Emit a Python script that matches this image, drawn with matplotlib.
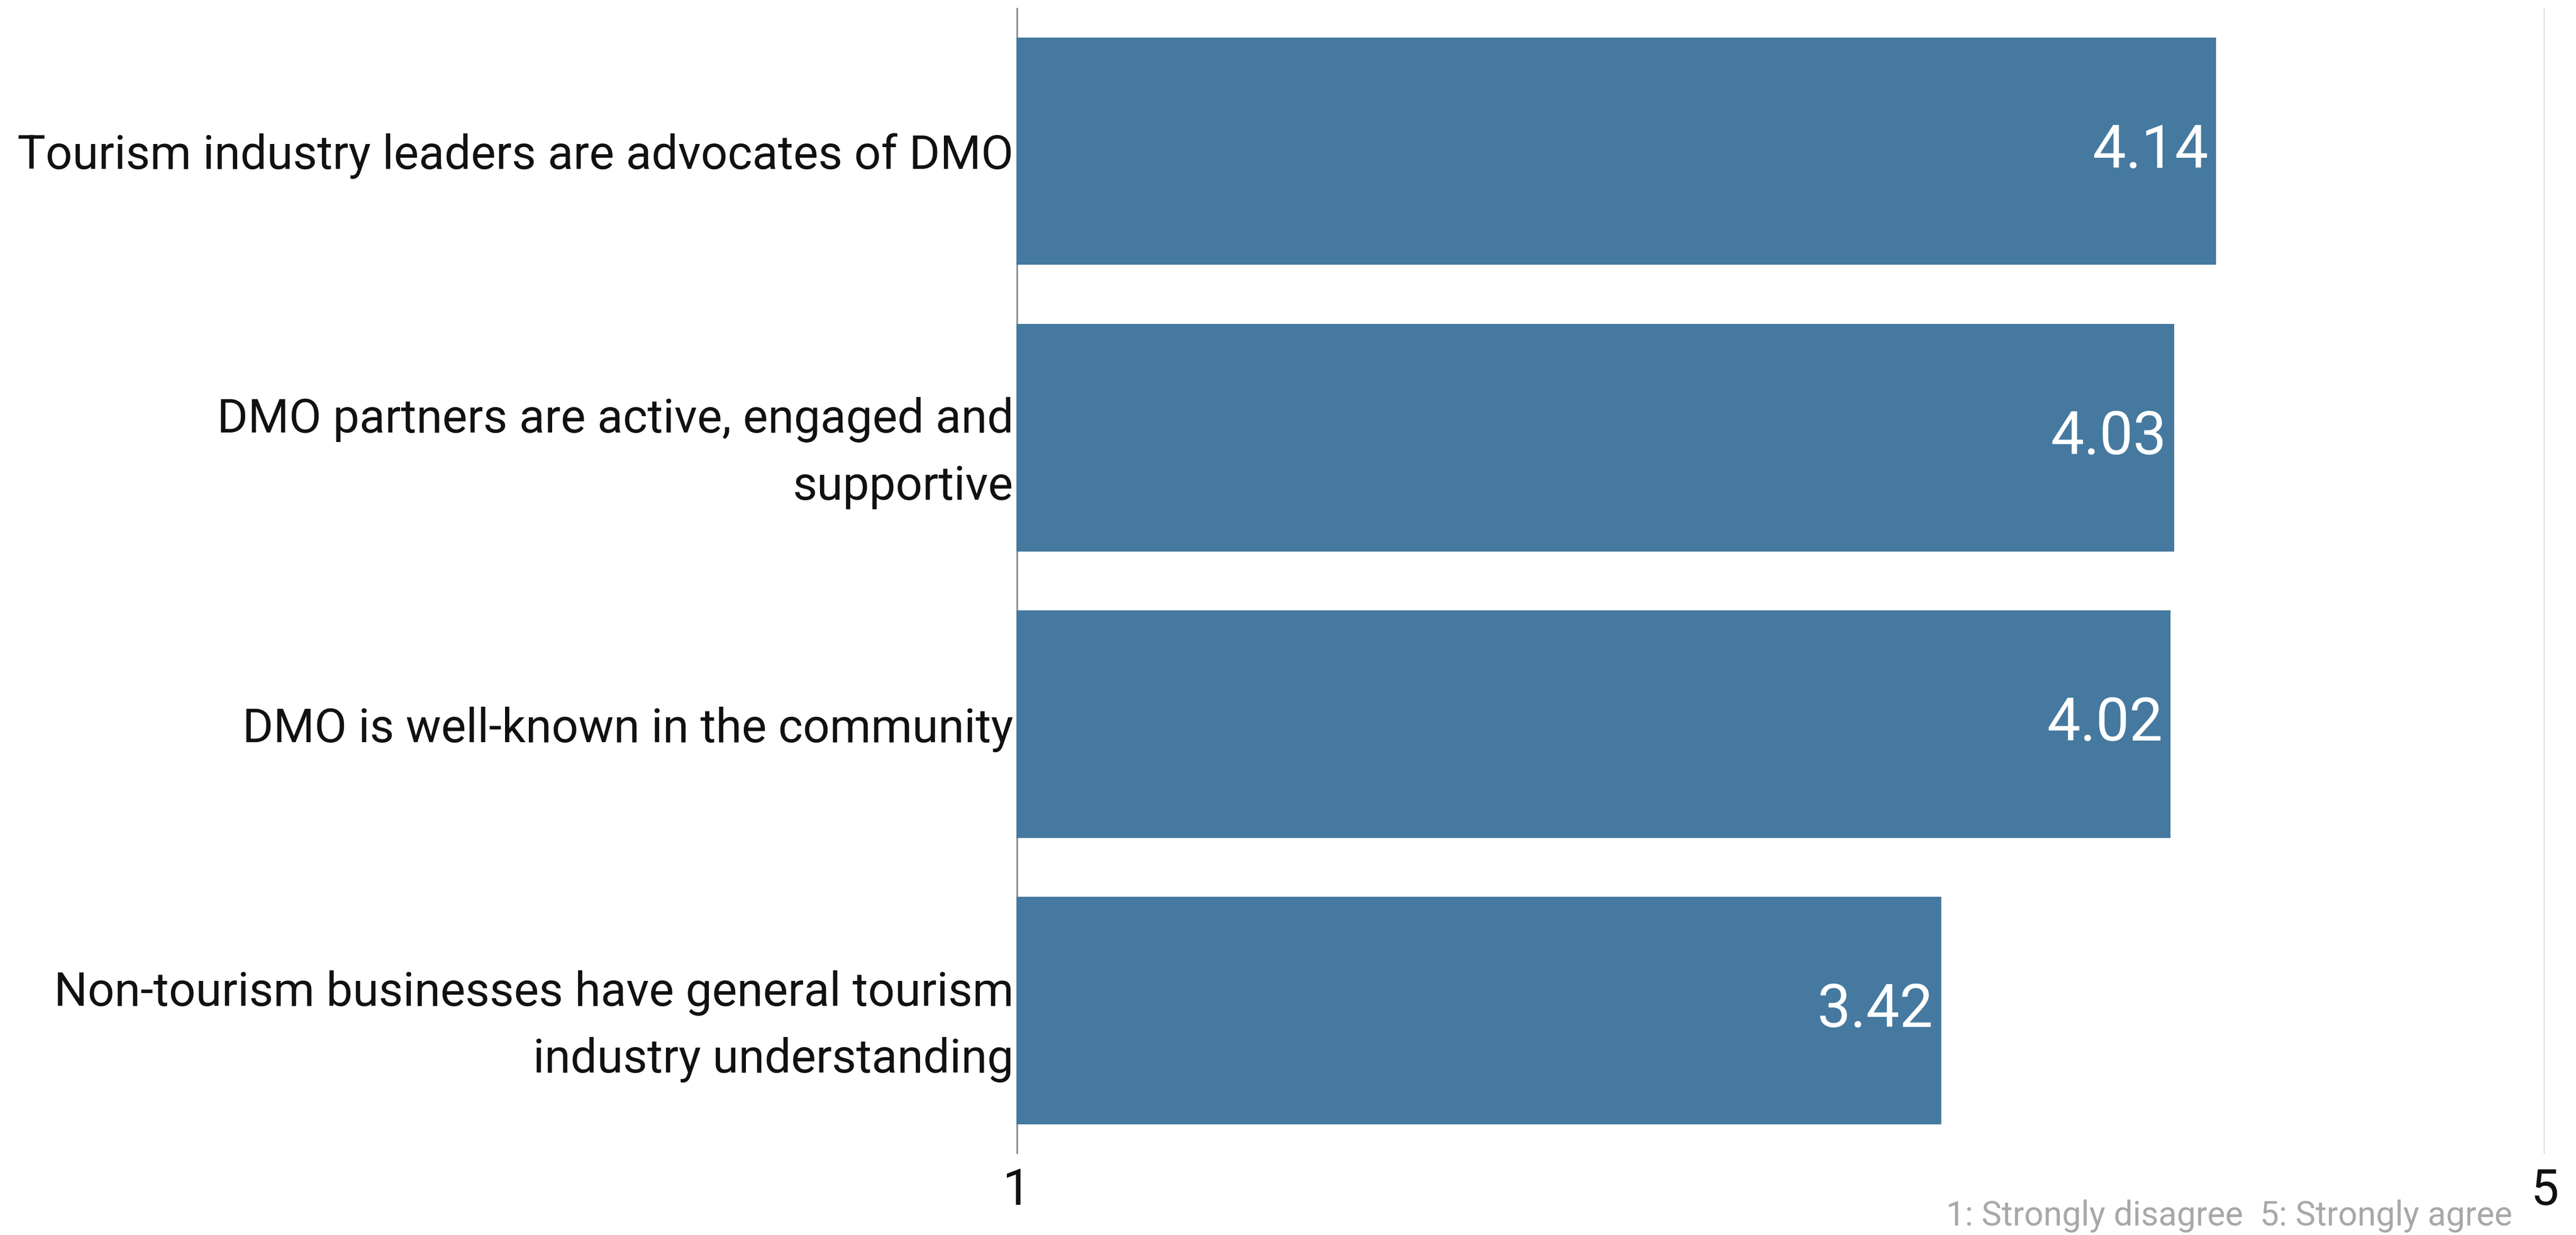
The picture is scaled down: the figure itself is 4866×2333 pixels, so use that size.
import matplotlib
matplotlib.use('Agg')
import matplotlib.pyplot as plt

plt.rcParams['font.family'] = ['Roboto', 'DejaVu Sans']

# survey statements (top to bottom) and mean agreement scores
statements = [
    'Tourism industry leaders are advocates of DMO',
    'DMO partners are active, engaged and\nsupportive',
    'DMO is well-known in the community',
    'Non-tourism businesses have general tourism\nindustry understanding',
]
scores = [4.14, 4.03, 4.02, 3.42]
scale_ticks = [1, 5]
scale_note = '1: Strongly disagree  5: Strongly agree'

bar_color = '#45799f'

fig = plt.figure(figsize=(48.66, 23.33), dpi=100)
ax = fig.add_axes([1920 / 4866, 0.0656, 2887 / 4866, 0.928])

ypos = list(range(len(statements)))
ax.barh(ypos, [s - 1 for s in scores], left=1, height=0.794,
        color=bar_color, zorder=3)

for y, s in zip(ypos, scores):
    ax.text(s - 0.02, y, f'{s:.2f}', ha='right', va='center',
            color='white', fontsize=81, zorder=4)

ax.set_xlim(1, 5)
ax.set_ylim(3.5, -0.5)

# scale end lines
ax.axvline(1, color='#8c8c8c', lw=3.6, zorder=2)
ax.axvline(5, color='#dedede', lw=3.0, zorder=2)

for side in ['top', 'right', 'bottom', 'left']:
    ax.spines[side].set_visible(False)

ax.set_yticks(ypos)
ax.set_yticklabels(statements, fontsize=64, color='#111111', linespacing=1.6)
ax.set_xticks(scale_ticks)
ax.set_xticklabels([str(t) for t in scale_ticks], fontsize=68, color='#111111')
ax.tick_params(axis='y', length=0, pad=4)
ax.tick_params(axis='x', length=0, pad=18)

fig.text(4746 / 4866, 1 - 2297 / 2333, scale_note, ha='right', va='center',
         fontsize=46, color='#a8a8a8')

fig.savefig('out.png', dpi=100)
plt.close(fig)
